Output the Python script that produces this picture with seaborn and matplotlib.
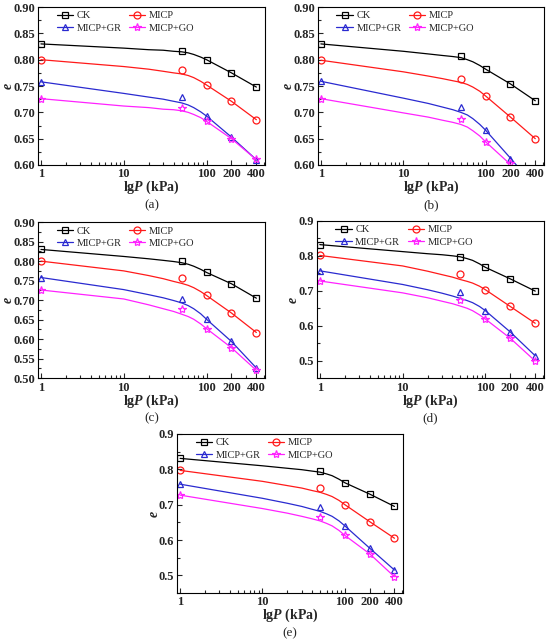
import matplotlib
matplotlib.use('Agg')
import matplotlib.pyplot as plt
from matplotlib.lines import Line2D
from matplotlib.ticker import FixedLocator, MultipleLocator, FormatStrFormatter, NullFormatter
import seaborn as sns

# pressures of the test points and of the sampled fitting curves (kPa)
P = [1, 50, 100, 200, 400]
P_fit = [1, 10, 20, 30, 40, 50, 60, 70, 85, 100, 200, 400]

series = ['CK', 'MICP', 'MICP+GR', 'MICP+GO']
panel_labels = ['(a)', '(b)', '(c)', '(d)', '(e)']

# measured void ratio e, one list per panel and series
e_a = {'CK': [0.830, 0.817, 0.800, 0.775, 0.748],
       'MICP': [0.800, 0.781, 0.752, 0.721, 0.686],
       'MICP+GR': [0.758, 0.730, 0.693, 0.653, 0.610],
       'MICP+GO': [0.726, 0.709, 0.683, 0.650, 0.611]}
e_b = {'CK': [0.830, 0.807, 0.782, 0.754, 0.722],
       'MICP': [0.799, 0.764, 0.731, 0.691, 0.650],
       'MICP+GR': [0.759, 0.711, 0.666, 0.612, 0.558],
       'MICP+GO': [0.725, 0.687, 0.644, 0.603, 0.545]}
e_c = {'CK': [0.830, 0.800, 0.771, 0.742, 0.705],
       'MICP': [0.800, 0.756, 0.712, 0.667, 0.617],
       'MICP+GR': [0.758, 0.702, 0.651, 0.594, 0.526],
       'MICP+GO': [0.726, 0.676, 0.627, 0.578, 0.520]}
e_d = {'CK': [0.832, 0.797, 0.767, 0.734, 0.699],
       'MICP': [0.801, 0.749, 0.703, 0.655, 0.607],
       'MICP+GR': [0.757, 0.697, 0.643, 0.582, 0.514],
       'MICP+GO': [0.728, 0.673, 0.619, 0.564, 0.499]}
e_e = {'CK': [0.831, 0.794, 0.762, 0.730, 0.695],
       'MICP': [0.797, 0.747, 0.700, 0.652, 0.605],
       'MICP+GR': [0.758, 0.693, 0.640, 0.577, 0.515],
       'MICP+GO': [0.727, 0.666, 0.613, 0.561, 0.496]}

# fitted curves at P_fit
fit_a = {'CK': [0.830, 0.822, 0.819, 0.818, 0.816, 0.815, 0.813, 0.810, 0.805, 0.800, 0.775, 0.748],
         'MICP': [0.800, 0.787, 0.782, 0.778, 0.775, 0.773, 0.770, 0.766, 0.759, 0.752, 0.721, 0.686],
         'MICP+GR': [0.758, 0.736, 0.729, 0.725, 0.721, 0.718, 0.714, 0.709, 0.701, 0.693, 0.653, 0.610],
         'MICP+GO': [0.726, 0.712, 0.709, 0.706, 0.705, 0.703, 0.700, 0.696, 0.690, 0.683, 0.650, 0.610]}
fit_b = {'CK': [0.830, 0.816, 0.811, 0.808, 0.806, 0.804, 0.800, 0.796, 0.789, 0.782, 0.754, 0.722],
         'MICP': [0.799, 0.777, 0.769, 0.764, 0.760, 0.757, 0.753, 0.748, 0.740, 0.731, 0.691, 0.650],
         'MICP+GR': [0.759, 0.727, 0.717, 0.710, 0.705, 0.700, 0.695, 0.688, 0.677, 0.666, 0.613, 0.558],
         'MICP+GO': [0.726, 0.699, 0.691, 0.685, 0.681, 0.677, 0.672, 0.665, 0.655, 0.644, 0.601, 0.545]}
fit_c = {'CK': [0.830, 0.812, 0.806, 0.802, 0.799, 0.796, 0.792, 0.787, 0.779, 0.771, 0.742, 0.705],
         'MICP': [0.800, 0.775, 0.763, 0.755, 0.748, 0.743, 0.738, 0.732, 0.722, 0.712, 0.667, 0.617],
         'MICP+GR': [0.758, 0.727, 0.714, 0.706, 0.699, 0.693, 0.686, 0.678, 0.665, 0.651, 0.594, 0.526],
         'MICP+GO': [0.726, 0.703, 0.688, 0.678, 0.671, 0.664, 0.658, 0.651, 0.639, 0.627, 0.578, 0.520]}
fit_d = {'CK': [0.832, 0.812, 0.806, 0.803, 0.800, 0.797, 0.792, 0.787, 0.777, 0.767, 0.734, 0.699],
         'MICP': [0.801, 0.771, 0.756, 0.746, 0.739, 0.732, 0.727, 0.722, 0.713, 0.703, 0.655, 0.607],
         'MICP+GR': [0.757, 0.718, 0.703, 0.693, 0.685, 0.678, 0.672, 0.666, 0.655, 0.643, 0.582, 0.514],
         'MICP+GO': [0.728, 0.694, 0.680, 0.670, 0.663, 0.656, 0.650, 0.643, 0.631, 0.619, 0.564, 0.499]}
fit_e = {'CK': [0.831, 0.810, 0.803, 0.799, 0.795, 0.792, 0.787, 0.782, 0.772, 0.762, 0.730, 0.695],
         'MICP': [0.797, 0.766, 0.754, 0.747, 0.740, 0.735, 0.729, 0.723, 0.712, 0.700, 0.652, 0.605],
         'MICP+GR': [0.758, 0.718, 0.704, 0.695, 0.687, 0.681, 0.674, 0.667, 0.654, 0.640, 0.577, 0.515],
         'MICP+GO': [0.727, 0.689, 0.676, 0.667, 0.660, 0.654, 0.647, 0.640, 0.627, 0.613, 0.561, 0.496]}

colors = {'CK': 'black', 'MICP': '#ff1a1a', 'MICP+GR': '#2a2ad0', 'MICP+GO': '#ff22ff'}
markers = {'CK': 's', 'MICP': 'o', 'MICP+GR': '^', 'MICP+GO': '*'}
msizes = {'CK': 4.3, 'MICP': 5.0, 'MICP+GR': 5.0, 'MICP+GO': 6.0}

sns.set_theme(style='ticks')
plt.rcParams['font.family'] = ['Liberation Serif', 'DejaVu Serif']
plt.rcParams['mathtext.fontset'] = 'custom'
plt.rcParams['mathtext.it'] = 'Liberation Serif:italic:bold'
plt.rcParams['mathtext.bf'] = 'Liberation Serif:bold'
plt.rcParams['mathtext.rm'] = 'Liberation Serif:bold'

fig = plt.figure(figsize=(5.5, 6.42), dpi=100)

# [left, bottom, width, height] in figure fractions
rects = [[0.069, 0.743, 0.413, 0.246],
         [0.578, 0.743, 0.411, 0.246],
         [0.069, 0.411, 0.413, 0.243],
         [0.576, 0.411, 0.413, 0.245],
         [0.322, 0.0763, 0.411, 0.2477]]
data = [(e_a, fit_a), (e_b, fit_b), (e_c, fit_c), (e_d, fit_d), (e_e, fit_e)]
ylims = [(0.60, 0.90), (0.60, 0.90), (0.50, 0.90), (0.45, 0.90), (0.45, 0.90)]
ysteps = [0.05, 0.05, 0.05, 0.1, 0.1]
yfmts = ['%.2f', '%.2f', '%.2f', '%.1f', '%.1f']

# legend order so rows read CK, MICP / MICP+GR, MICP+GO
leg_order = ['CK', 'MICP+GR', 'MICP', 'MICP+GO']

for i, rect in enumerate(rects):
    ax = fig.add_axes(rect)
    pts, fit = data[i]
    for s in series:
        sns.lineplot(x=P_fit, y=fit[s], ax=ax, color=colors[s], lw=0.9,
                     estimator=None, sort=False)
        sns.lineplot(x=P, y=pts[s], ax=ax, color=colors[s], linestyle='none',
                     marker=markers[s], markersize=msizes[s], markerfacecolor='none',
                     markeredgecolor=colors[s], markeredgewidth=0.9,
                     estimator=None, sort=False)
    ax.set_xscale('log')
    ax.set_xlim(0.92, 510)
    ax.set_ylim(*ylims[i])
    ax.xaxis.set_major_locator(FixedLocator([1, 10, 100, 200, 400]))
    ax.set_xticklabels(['1', '10', '100', '200', '400'])
    ax.xaxis.set_minor_formatter(NullFormatter())
    ax.yaxis.set_major_locator(MultipleLocator(ysteps[i]))
    ax.yaxis.set_minor_locator(MultipleLocator(ysteps[i] / 2))
    ax.yaxis.set_major_formatter(FormatStrFormatter(yfmts[i]))
    ax.tick_params(which='both', direction='in', top=False, right=False,
                   labelsize=9, width=0.8)
    ax.tick_params(axis='y', pad=2)
    ax.tick_params(axis='x', pad=2.5)
    ax.tick_params(which='major', length=3.5)
    ax.tick_params(which='minor', length=2)
    for lab in ax.get_xticklabels() + ax.get_yticklabels():
        lab.set_fontweight('bold')
    for sp in ax.spines.values():
        sp.set_linewidth(0.8)
        sp.set_color('black')
    ax.set_xlabel(r'lg$\it{P}$ (kPa)', fontsize=10, fontweight='bold', labelpad=-1)
    ax.set_ylabel('e', fontsize=10, fontweight='bold', fontstyle='italic', labelpad=-1)
    ax.text(0.5, -0.255, panel_labels[i], transform=ax.transAxes, ha='center',
            va='center', fontsize=9.5)

    handles = [Line2D([], [], color=colors[s], marker=markers[s], markersize=msizes[s],
                      markerfacecolor='none', markeredgewidth=0.9, lw=0.9)
               for s in leg_order]
    ax.legend(handles, leg_order, ncol=2, loc='upper left', frameon=False,
              fontsize=7.5, bbox_to_anchor=(0.05, 1.02), handlelength=1.6,
              handletextpad=0.3, columnspacing=0.7, labelspacing=0.3,
              borderaxespad=0.3)

fig.savefig('out.png', dpi=100)
